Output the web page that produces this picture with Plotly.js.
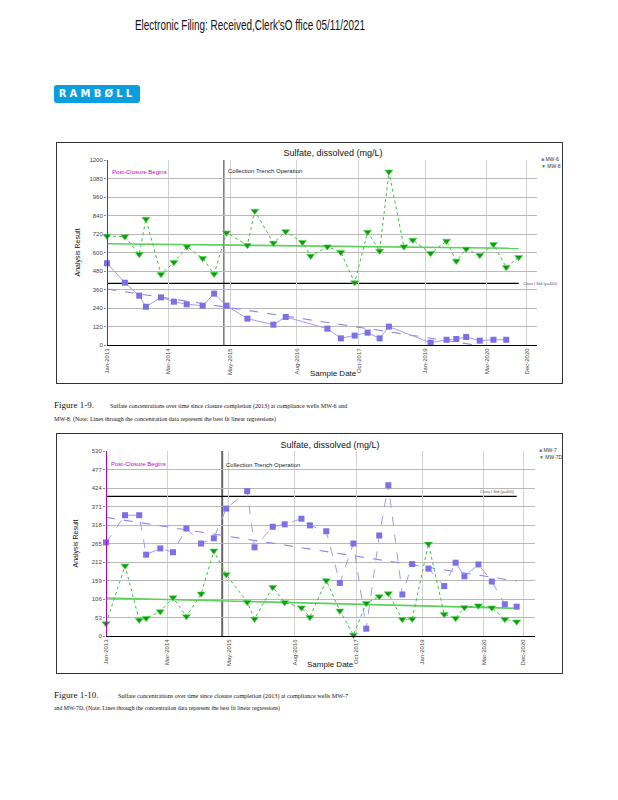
<!DOCTYPE html>
<html>
<head>
<meta charset="utf-8">
<script src="https://cdn.plot.ly/plotly-3.0.1.min.js"></script>
<style>
  html, body { margin:0; padding:0; background:#fff; }
  body { width:618px; height:800px; position:relative; overflow:hidden; font-family:"Liberation Sans", Arial, sans-serif; }
  .abs { position:absolute; white-space:nowrap; }
  #hdr { left:135px; top:17px; font-family:"Liberation Sans Narrow","Liberation Sans",Arial,sans-serif; font-size:14px; color:#111; transform-origin:0 0; }
  #logo { left:54px; top:85px; width:86px; height:18px; background:#0a9ede; border-radius:3px; color:#fff; font-weight:bold; font-size:10px; line-height:18px; text-align:center; letter-spacing:3.2px; font-family:"DejaVu Sans", Arial, sans-serif; }
  .chart { position:absolute; left:57px; width:505px; outline:1px solid #333; }
  .cap { font-family:"Liberation Serif","Times New Roman",serif; color:#111; transform-origin:0 0; }
  .figno { font-size:9px; }
  .captxt { font-size:6.2px; }
</style>
</head>
<body>
<div id="hdr" class="abs">Electronic Filing: Received,Clerk'sO ffice 05/11/2021</div>
<div id="logo" class="abs">RAMBØLL</div>

<div id="c1" class="chart" style="top:143px;height:240px;"></div>
<div class="abs cap figno" style="left:54px;top:400px;">Figure 1-9.</div>
<div id="cap1a" class="abs cap captxt" style="left:110px;top:402px;">Sulfate concentrations over time since closure completion (2013) at compliance wells MW-6 and</div>
<div id="cap1b" class="abs cap captxt" style="left:54px;top:415px;">MW-8. (Note: Lines through the concentration data represent the best fit linear regressions)</div>

<div id="c2" class="chart" style="top:434px;height:239px;"></div>
<div class="abs cap figno" style="left:54px;top:690px;">Figure 1-10.</div>
<div id="cap2a" class="abs cap captxt" style="left:118px;top:692px;">Sulfate concentrations over time since closure completion (2013) at compliance wells MW-7</div>
<div id="cap2b" class="abs cap captxt" style="left:54px;top:704px;">and MW-7D. (Note: Lines through the concentration data represent the best fit linear regressions)</div>

<script>
// ---------------- DATA ----------------
const mw6Dates = ["2013-01-01","2013-05-04","2013-08-11","2013-09-26","2014-01-08","2014-04-07","2014-07-04","2014-10-22","2015-01-09","2015-04-04","2015-08-26","2016-02-21","2016-05-16","2017-02-27","2017-05-31","2017-09-03","2017-12-01","2018-02-22","2018-04-27","2019-02-08","2019-05-29","2019-08-04","2019-10-11","2020-01-13","2020-04-16","2020-07-13"];
const mw6Values = [530,404,320,248,309,281,264,255,333,255,171,132,182,106,43,61,80,43,119,15,34,39,52,28,34,34];

const mw8Dates = ["2013-01-01","2013-05-04","2013-08-11","2013-09-26","2014-01-08","2014-04-07","2014-07-06","2014-10-22","2015-01-09","2015-04-04","2015-08-26","2015-10-16","2016-02-21","2016-05-16","2016-09-08","2016-11-04","2017-02-27","2017-05-31","2017-09-03","2017-12-01","2018-02-22","2018-04-27","2018-08-08","2018-10-09","2019-02-08","2019-05-29","2019-08-04","2019-10-11","2020-01-13","2020-04-16","2020-07-13","2020-10-07"];
const mw8Values = [707,703,588,817,459,536,638,562,460,728,647,869,662,737,666,577,638,601,405,733,610,1124,638,681,595,675,545,623,582,653,504,569];

const mw7Dates = ["2013-01-01","2013-05-13","2013-08-19","2013-10-06","2014-01-12","2014-04-10","2014-07-12","2014-10-22","2015-01-18","2015-04-14","2015-09-06","2015-10-27","2016-03-01","2016-05-23","2016-09-16","2016-11-13","2017-03-07","2017-06-09","2017-09-11","2017-12-09","2018-03-09","2018-05-11","2018-08-16","2018-10-23","2019-02-13","2019-06-02","2019-08-20","2019-10-20","2020-01-25","2020-04-27","2020-07-26","2020-10-16"];
const mw7Values = [268,346,346,233,251,240,308,265,280,365,415,254,313,320,336,317,300,152,265,21,288,432,119,206,193,143,210,171,205,156,91,84];
const mw7dDates = mw7Dates;
const mw7dValues = [36,201,46,51,70,110,56,121,244,176,97,49,140,96,81,54,159,72,3,94,113,122,48,49,264,62,51,82,87,81,48,41];

const tickDates = ["2013-01-01","2014-03-01","2015-05-01","2016-08-01","2017-10-01","2019-01-01","2020-03-01","2020-12-01"];
const tickLabels = ["Jan-2013","Mar-2014","May-2015","Aug-2016","Oct-2017","Jan-2019","Mar-2020","Dec-2020"];
const yTicks1 = [0,120,240,360,480,600,720,840,960,1080,1200];
const yTicks2 = [0,53,106,159,212,265,318,371,424,477,530];
const postClosureDate = "2013-01-01";
const trenchDate = "2015-03-17";
const standardValue = 400;

// ---------------- HELPERS ----------------
function linfit(dates, vals) {
  const xs = dates.map(d => new Date(d).getTime());
  const n = xs.length;
  const mx = xs.reduce((a,b)=>a+b,0)/n, my = vals.reduce((a,b)=>a+b,0)/n;
  let sxy=0, sxx=0;
  for (let i=0;i<n;i++){ sxy += (xs[i]-mx)*(vals[i]-my); sxx += (xs[i]-mx)*(xs[i]-mx); }
  const b = sxy/sxx, a = my - b*mx;
  return { x:[dates[0], dates[n-1]], y:[a+b*xs[0], a+b*xs[n-1]] };
}
const PURPLE = '#7b70e6', PURPLE_L = '#a09cef', GREEN = '#119a11', GREEN_L = '#3cc23c';
const FONT = 'Liberation Sans, Arial, sans-serif';

function sq(name, dates, vals, dashConn) {
  return { type:'scatter', mode:'lines+markers', x:dates, y:vals, name:name, cliponaxis:false,
    line:{color:PURPLE_L, width:1, dash:dashConn}, marker:{symbol:'square', size:6, color:PURPLE, line:{width:0}} };
}
function tri(name, dates, vals) {
  return { type:'scatter', mode:'lines+markers', x:dates, y:vals, name:name, cliponaxis:false,
    line:{color:GREEN_L, width:1, dash:'dot'}, marker:{symbol:'triangle-down', size:7, color:GREEN, line:{width:0.6, color:'#4ee04e'}} };
}
function trend(fit, color, dash, width) {
  return { type:'scatter', mode:'lines', x:fit.x, y:fit.y, line:{color:color, width:width, dash:dash}, hoverinfo:'skip' };
}

function buildLayout(o) {
  const plotW = 505 - o.l - o.r;
  return {
    width:505, height:o.h, paper_bgcolor:'#fff', plot_bgcolor:'#fff', showlegend:false,
    margin:{l:o.l, r:o.r, t:o.t, b:o.b, pad:0},
    font:{family:FONT, size:6, color:'#333'},
    title:{text:'Sulfate, dissolved (mg/L)', font:{family:FONT, size:9, color:'#111'}, xref:'container', yref:'container', x:o.titleX, y:o.titleY, xanchor:'center', yanchor:'middle'},
    xaxis:{type:'date', range:o.xr, tickvals:tickDates, ticktext:tickLabels, tickangle:-90, tickfont:{size:6, color:'#444'},
      showgrid:true, gridcolor:'#d2d2d2', gridwidth:1, zeroline:false, showline:true, linecolor:'#000', linewidth:1, ticks:'', fixedrange:true},
    yaxis:{range:o.yr, tickvals:o.yt, ticktext:o.yt.map(String), tickfont:{size:6, color:'#444'}, showgrid:true, gridcolor:'#b8b8b8', gridwidth:1,
      zeroline:false, showline:false, ticks:'outside', ticklen:2, tickcolor:'#888', fixedrange:true},
    shapes:[
      {type:'line', xref:'x', yref:'paper', x0:postClosureDate, x1:postClosureDate, y0:0, y1:1, line:{color:'#b400b4', width:2}, layer:'above'},
      {type:'line', xref:'x', yref:'paper', x0:trenchDate, x1:trenchDate, y0:0, y1:1, line:{color:o.trenchColor, width:o.trenchWidth}, layer:'below'},
      {type:'line', xref:'x', yref:'y', x0:o.stdX0, x1:o.stdX1, y0:standardValue, y1:standardValue, line:{color:'#000', width:1.3}, layer:'below'}
    ],
    annotations:[
      {text:'Post-Closure Begins', xref:'paper', yref:'paper', x:0.006, y:o.pcY, xanchor:'left', yanchor:'middle', showarrow:false, font:{size:6, color:'#c000c0'}},
      {text:'Collection Trench Operation', xref:'x', yref:'paper', x:trenchDate, xshift:2, y:o.ctY, xanchor:'left', yanchor:'middle', showarrow:false, font:{size:6, color:'#222'}},
      {text:'Class I Std (y=400)', xref:'x', yref:'y', x:o.stdLblX, y:standardValue, xshift:o.stdLblShift, yshift:o.stdLblYShift, xanchor:o.stdLblAnchor, yanchor:'middle', showarrow:false, font:{size:4, color:'#555'}},
      {text:'Analysis Result', xref:'paper', yref:'paper', x:o.ytX, y:0.5, textangle:-90, showarrow:false, xanchor:'center', yanchor:'middle', font:{size:7, color:'#111'}},
      {text:'Sample Date', xref:'paper', yref:'paper', x:o.xtX, y:o.xtY, showarrow:false, xanchor:'center', yanchor:'middle', font:{size:8, color:'#111'}},
      {text:'<span style="color:'+PURPLE+'">■</span> '+o.n1, xref:'paper', yref:'paper', x:1+2/plotW, y:1.005, xanchor:'left', yanchor:'middle', showarrow:false, font:{size:5, color:'#333'}},
      {text:'<span style="color:'+GREEN+'">▼</span> '+o.n2, xref:'paper', yref:'paper', x:1+2/plotW, y:0.965, xanchor:'left', yanchor:'middle', showarrow:false, font:{size:5, color:'#333'}},
      {text:'Created 4/6/2021 7:57 AM   Data from Groundwater Database', xref:'container', yref:'container', x:0.004, y:o.ftY, xanchor:'left', yanchor:'middle', showarrow:false, font:{size:4, color:'#777'}}
    ]
  };
}

const cfg = {staticPlot:true, displayModeBar:false};

// ---------------- CHART 1 ----------------
const fit6 = linfit(mw6Dates, mw6Values), fit8 = linfit(mw8Dates, mw8Values);
Plotly.newPlot('c1', [
  trend(fit6, '#8c86e8', 'dash', 1.1),
  trend(fit8, '#5dd05d', 'solid', 1.6),
  sq('MW-6', mw6Dates, mw6Values, 'solid'),
  tri('MW-8', mw8Dates, mw8Values)
], buildLayout({h:240, l:50, r:25, t:17, b:38, titleX:276/505, titleY:1-10/240, xr:['2013-01-01','2021-02-10'], yr:[0,1200], yt:yTicks1,
  trenchColor:'#555', trenchWidth:1.2, stdX0:mw8Dates[0], stdX1:mw8Dates[mw8Dates.length-1], stdLblX:mw8Dates[mw8Dates.length-1], stdLblShift:2, stdLblYShift:0, stdLblAnchor:'left',
  pcY:(345-172)/185, ctY:(345-171)/185, ytX:-30/430, xtX:(333-107)/430, xtY:-(373-345)/185, n1:'MW-6', n2:'MW-8', ftY:4/240}), cfg);

// ---------------- CHART 2 ----------------
const fit7 = linfit(mw7Dates, mw7Values), fit7d = linfit(mw7dDates, mw7dValues);
Plotly.newPlot('c2', [
  trend(fit7, '#8c86e8', 'dash', 1.1),
  trend(fit7d, '#5dd05d', 'solid', 1.6),
  sq('MW-7', mw7Dates, mw7Values, 'dash'),
  tri('MW-7D', mw7dDates, mw7dValues)
], buildLayout({h:239, l:49, r:27, t:17, b:37, titleX:273/505, titleY:1-11/239, xr:['2013-01-01','2021-02-20'], yr:[0,530], yt:yTicks2,
  trenchColor:'#666', trenchWidth:2, stdX0:mw7Dates[0], stdX1:mw7Dates[mw7Dates.length-1], stdLblX:mw7Dates[mw7Dates.length-1], stdLblShift:0, stdLblYShift:5, stdLblAnchor:'right',
  pcY:(636-464)/185, ctY:(636-465)/185, ytX:-31/429, xtX:(330-106)/429, xtY:-(664-636)/185, n1:'MW-7', n2:'MW-7D', ftY:5/239}), cfg);

// fit text widths to the scanned page
function fitWidth(id, w) {
  const el = document.getElementById(id);
  const cw = el.getBoundingClientRect().width;
  if (cw > 0) el.style.transform = 'scaleX(' + (w / cw) + ')';
}
fitWidth('hdr', 230);
fitWidth('cap1a', 237);
fitWidth('cap1b', 222);
fitWidth('cap2a', 230);
fitWidth('cap2b', 226);
</script>
</body>
</html>
